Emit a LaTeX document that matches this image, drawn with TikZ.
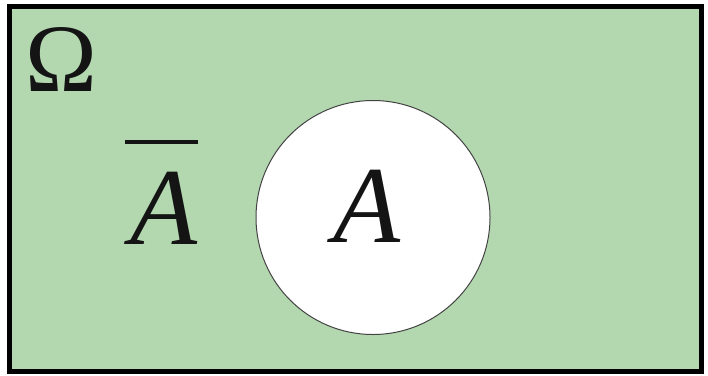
\documentclass[tikz,border=0pt]{standalone}
\usepackage{fontspec}
\setmainfont{Liberation Serif}
\usetikzlibrary{positioning}
\definecolor{vnGreen}{RGB}{179,216,176}
\definecolor{vnInk}{RGB}{20,20,20}
\tikzset{
  setlabel/.style={inner sep=0pt, text=vnInk},
  bigsym/.style={setlabel, font=\fontsize{97}{97}\selectfont},
  bigvar/.style={setlabel, font=\fontsize{110}{110}\selectfont\itshape}
}

\begin{document}
\begin{tikzpicture}[x=1bp,y=-1bp]
  \useasboundingbox (0,0) rectangle (708,375);
  % universe
  \draw[fill=vnGreen,draw=black,line width=5bp] (9,6) rectangle (701,371);
  % event A
  \draw[fill=white,draw=vnInk!80,line width=1bp] (373,217.5) circle (117);
  \node[bigsym] (omega) at (61,60) {Ω};
  \node[bigvar] (a) at (367,206) {A};
  \node[bigvar] (abar) at (164,208) {A};
  \draw[line width=4bp,vnInk] (125,142) -- (198,142);
\end{tikzpicture}
\end{document}
